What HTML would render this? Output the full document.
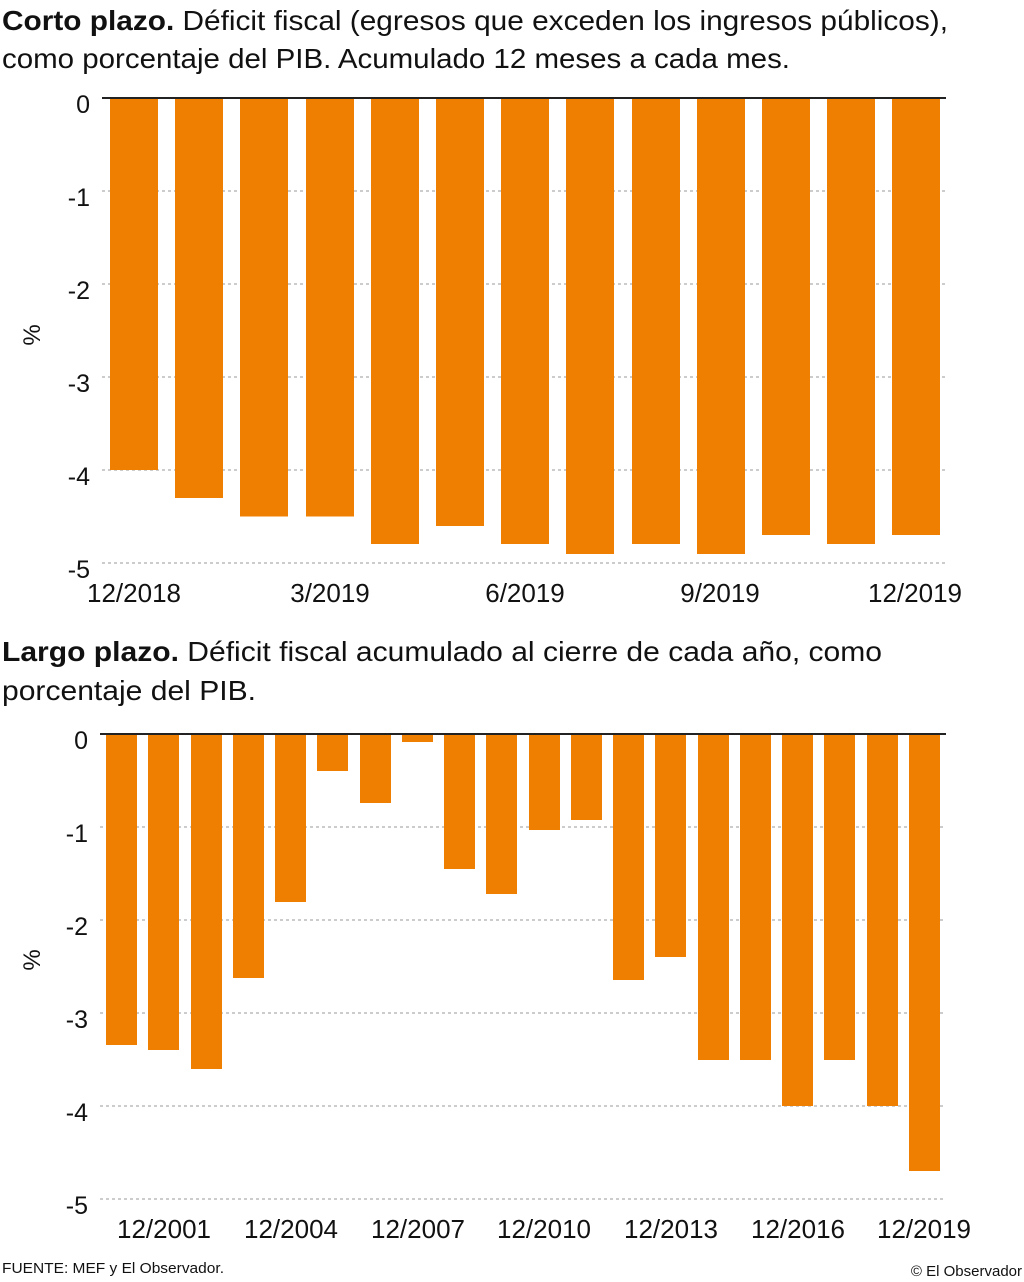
<!DOCTYPE html><html><head><meta charset="utf-8"><style>body{margin:0;background:#fff}svg{display:block}text{font-family:"Liberation Sans",sans-serif;fill:#111}</style></head><body>
<svg width="1024" height="1282" viewBox="0 0 1024 1282">
<text x="2" y="30" font-size="28" textLength="946" lengthAdjust="spacingAndGlyphs"><tspan font-weight="bold">Corto plazo.</tspan> Déficit fiscal (egresos que exceden los ingresos públicos),</text>
<text x="2" y="68" font-size="28" textLength="788" lengthAdjust="spacingAndGlyphs">como porcentaje del PIB. Acumulado 12 meses a cada mes.</text>
<g id="top">
<g stroke="#999" stroke-dasharray="3,3" stroke-width="1">
<line x1="102" x2="946" y1="191" y2="191"/><line x1="102" x2="946" y1="284" y2="284"/><line x1="102" x2="946" y1="377" y2="377"/><line x1="102" x2="946" y1="470" y2="470"/><line x1="102" x2="946" y1="563" y2="563"/>
</g>
<g fill="#EF7F00">
<rect x="110" y="98" width="48" height="372"/><rect x="175" y="98" width="48" height="400"/><rect x="240" y="98" width="48" height="418.5"/><rect x="306" y="98" width="48" height="418.5"/><rect x="371" y="98" width="48" height="446"/><rect x="436" y="98" width="48" height="428"/><rect x="501" y="98" width="48" height="446"/><rect x="566" y="98" width="48" height="456"/><rect x="632" y="98" width="48" height="446"/><rect x="697" y="98" width="48" height="456"/><rect x="762" y="98" width="48" height="437"/><rect x="827" y="98" width="48" height="446"/><rect x="892" y="98" width="48" height="437"/>
</g>
<line x1="102" x2="946" y1="98" y2="98" stroke="#222" stroke-width="2"/>
<g font-size="25" text-anchor="end"><text x="90" y="113">0</text><text x="90" y="206">-1</text><text x="90" y="299">-2</text><text x="90" y="392">-3</text><text x="90" y="485">-4</text><text x="90" y="578">-5</text></g>
<text font-size="24" transform="translate(40,335) rotate(-90)" text-anchor="middle">%</text>
<g font-size="26" text-anchor="middle"><text x="134" y="602">12/2018</text><text x="330" y="602">3/2019</text><text x="525" y="602">6/2019</text><text x="720" y="602">9/2019</text><text x="915" y="602">12/2019</text></g>
</g>
<text x="2" y="661" font-size="28" textLength="880" lengthAdjust="spacingAndGlyphs"><tspan font-weight="bold">Largo plazo.</tspan> Déficit fiscal acumulado al cierre de cada año, como</text>
<text x="2" y="700" font-size="28" textLength="254" lengthAdjust="spacingAndGlyphs">porcentaje del PIB.</text>
<g stroke="#999" stroke-dasharray="3,3" stroke-width="1">
<line x1="100" x2="946" y1="827" y2="827"/><line x1="100" x2="946" y1="920" y2="920"/><line x1="100" x2="946" y1="1013" y2="1013"/><line x1="100" x2="946" y1="1106" y2="1106"/><line x1="100" x2="946" y1="1199" y2="1199"/>
</g>
<g fill="#EF7F00">
<rect x="106" y="734" width="31" height="311"/><rect x="148" y="734" width="31" height="316"/><rect x="191" y="734" width="31" height="335"/><rect x="233" y="734" width="31" height="244"/><rect x="275" y="734" width="31" height="168"/><rect x="317" y="734" width="31" height="37"/><rect x="360" y="734" width="31" height="69"/><rect x="402" y="734" width="31" height="8"/><rect x="444" y="734" width="31" height="135"/><rect x="486" y="734" width="31" height="160"/><rect x="529" y="734" width="31" height="96"/><rect x="571" y="734" width="31" height="86"/><rect x="613" y="734" width="31" height="246"/><rect x="655" y="734" width="31" height="223"/><rect x="698" y="734" width="31" height="326"/><rect x="740" y="734" width="31" height="326"/><rect x="782" y="734" width="31" height="372"/><rect x="824" y="734" width="31" height="326"/><rect x="867" y="734" width="31" height="372"/><rect x="909" y="734" width="31" height="437"/>
</g>
<line x1="100" x2="946" y1="734" y2="734" stroke="#222" stroke-width="2"/>
<g font-size="25" text-anchor="end"><text x="88" y="749">0</text><text x="88" y="842">-1</text><text x="88" y="935">-2</text><text x="88" y="1028">-3</text><text x="88" y="1121">-4</text><text x="88" y="1214">-5</text></g>
<text font-size="24" transform="translate(40,960) rotate(-90)" text-anchor="middle">%</text>
<g font-size="26" text-anchor="middle"><text x="164" y="1238">12/2001</text><text x="291" y="1238">12/2004</text><text x="418" y="1238">12/2007</text><text x="544" y="1238">12/2010</text><text x="671" y="1238">12/2013</text><text x="798" y="1238">12/2016</text><text x="924" y="1238">12/2019</text></g>
<text x="2" y="1273" font-size="15" textLength="222" lengthAdjust="spacingAndGlyphs">FUENTE: MEF y El Observador.</text>
<text x="1022" y="1276" font-size="15" text-anchor="end">© El Observador</text>
</svg></body></html>
